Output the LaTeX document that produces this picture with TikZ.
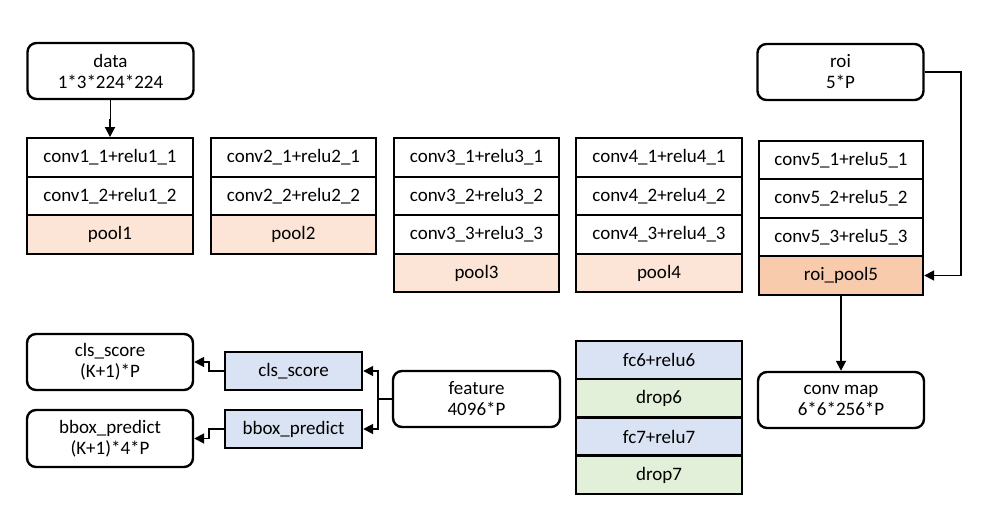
\documentclass[tikz,border=0pt]{standalone}
\usepackage{fontspec}
\setmainfont{Carlito}
\usetikzlibrary{arrows.meta}
\definecolor{peach}{HTML}{FCE4D6}
\definecolor{peachd}{HTML}{F8CBAD}
\definecolor{lblue}{HTML}{DAE3F3}
\definecolor{lgreen}{HTML}{E2F0D9}
\begin{document}
\begin{tikzpicture}[x=1pt,y=-1pt,
  every node/.style={font=\fontsize{19}{21}\selectfont, align=center, inner sep=0pt},
  cell/.style={draw, line width=2.4pt, minimum height=38.5pt},
  rbox/.style={draw, line width=2.4pt, rounded corners=9pt, minimum width=166pt, minimum height=56pt},
  conn/.style={line width=1.8pt, -{Triangle[length=10pt,width=10pt]}},
  plain/.style={line width=1.8pt}]
\useasboundingbox (0,0) rectangle (995,527);
% data
\node[rbox] (data) at (110.5,71) {data\\1*3*224*224};
% conv1
\node[cell, minimum width=166pt] (c11) at (110,157.5) {conv1\_1+relu1\_1};
\node[cell, minimum width=166pt] (c12) at (110,196) {conv1\_2+relu1\_2};
\node[cell, minimum width=166pt, fill=peach] (p1) at (110,234.5) {pool1};
% conv2
\node[cell, minimum width=165pt] (c21) at (293.5,157.5) {conv2\_1+relu2\_1};
\node[cell, minimum width=165pt] (c22) at (293.5,196) {conv2\_2+relu2\_2};
\node[cell, minimum width=165pt, fill=peach] (p2) at (293.5,234.5) {pool2};
% conv3
\node[cell, minimum width=165pt] (c31) at (476.5,157.5) {conv3\_1+relu3\_1};
\node[cell, minimum width=165pt] (c32) at (476.5,196) {conv3\_2+relu3\_2};
\node[cell, minimum width=165pt] (c33) at (476.5,234.5) {conv3\_3+relu3\_3};
\node[cell, minimum width=165pt, fill=peach] (p3) at (476.5,273) {pool3};
% conv4
\node[cell, minimum width=166pt] (c41) at (659,157.5) {conv4\_1+relu4\_1};
\node[cell, minimum width=166pt] (c42) at (659,196) {conv4\_2+relu4\_2};
\node[cell, minimum width=166pt] (c43) at (659,234.5) {conv4\_3+relu4\_3};
\node[cell, minimum width=166pt, fill=peach] (p4) at (659,273) {pool4};
% conv5
\node[cell, minimum width=164pt] (c51) at (841,160) {conv5\_1+relu5\_1};
\node[cell, minimum width=164pt] (c52) at (841,198.5) {conv5\_2+relu5\_2};
\node[cell, minimum width=164pt] (c53) at (841,237) {conv5\_3+relu5\_3};
\node[cell, minimum width=164pt, fill=peachd] (rp) at (841,275.5) {roi\_pool5};
% roi
\node[rbox] (roi) at (840.5,72) {roi\\5*P};
% conv map
\node[rbox] (cmap) at (841,400) {conv map\\6*6*256*P};
% fc stack
\node[cell, minimum width=166pt, minimum height=38pt, fill=lblue] (fc6) at (659,360) {fc6+relu6};
\node[cell, minimum width=166pt, minimum height=38pt, fill=lgreen] (d6) at (659,398) {drop6};
\node[cell, minimum width=166pt, minimum height=38pt, fill=lblue] (fc7) at (659,436.5) {fc7+relu7};
\node[cell, minimum width=166pt, minimum height=38pt, fill=lgreen] (d7) at (659,475) {drop7};
% feature
\node[rbox, minimum width=167pt] (feat) at (476.5,399) {feature\\4096*P};
% heads
\node[cell, minimum width=137pt, minimum height=38pt, fill=lblue] (clsb) at (293.5,371) {cls\_score};
\node[cell, minimum width=137pt, minimum height=38pt, fill=lblue] (bbb) at (293.5,429) {bbox\_predict};
\node[rbox] (clsr) at (110,362) {cls\_score\\(K+1)*P};
\node[rbox, minimum height=57pt] (bbr) at (110,438.5) {bbox\_predict\\(K+1)*4*P};
% connectors
\draw[conn] (data.south) -- ++(0,20) -| (c11.north);
\draw[conn] (roi.east) -- ++(36,0) |- (rp.east);
\draw[conn] (rp.south) -- ++(0,38) -| (cmap.north);
\coordinate (fj) at (378,399);
\draw[plain] (feat.west) -- (fj);
\draw[conn] (fj) |- (clsb.east);
\draw[conn] (fj) |- (bbb.east);
\draw[conn] (clsb.west) -- ++(-15,0) |- (clsr.east);
\draw[conn] (bbb.west) -- ++(-15,0) |- (bbr.east);
\end{tikzpicture}
\end{document}
